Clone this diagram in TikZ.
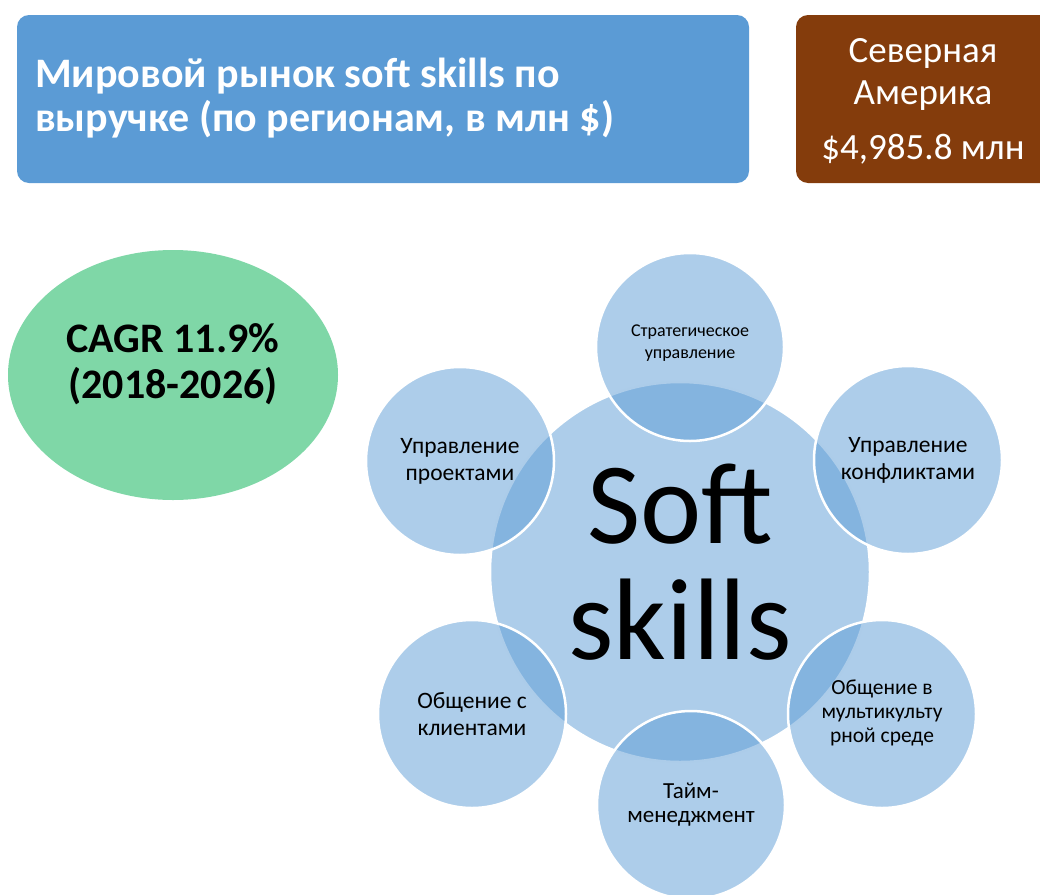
\documentclass[tikz,border=0pt]{standalone}
\usepackage{fontspec}
\setmainfont{Carlito}
\usetikzlibrary{shapes.geometric}
\definecolor{titleblue}{HTML}{5B9BD5}
\definecolor{regionbrown}{HTML}{843C0C}
\definecolor{cagrgreen}{HTML}{7FD7A7}
\definecolor{vennblue}{HTML}{5B9BD5}
\begin{document}
\begin{tikzpicture}[x=1pt,y=-1pt,
  panel/.style={rounded corners=12pt, inner sep=0pt},
  hub/.style={circle, fill=vennblue, fill opacity=0.5, text opacity=1,
    draw=white, line width=2.5pt, minimum size=380pt, inner sep=0pt},
  skill/.style={circle, fill=vennblue, fill opacity=0.5, text opacity=1,
    draw=white, draw opacity=1, line width=2.5pt, minimum size=188pt,
    inner sep=0pt},
  skilltext/.style={align=center, inner sep=0pt,
    font=\fontsize{23.5}{27}\selectfont}]
\useasboundingbox (0,0) rectangle (1040,894);
\clip (0,0) rectangle (1040,894);

% header panels
\node[panel, fill=titleblue, minimum width=732pt, minimum height=168pt]
  (titlebox) at (383,99) {};
\node[anchor=west, align=left, text=white, inner sep=0pt,
  font=\fontsize{42}{44}\selectfont\bfseries] (title) at (35,98)
  {Мировой рынок soft skills по\\выручке (по регионам, в млн \$)};

\node[panel, fill=regionbrown, minimum width=280pt, minimum height=168pt]
  (regionbox) at (936,99) {};
\node[align=center, text=white, inner sep=0pt,
  font=\fontsize{37}{42}\selectfont]
  (region) at (923,101) {Северная\\Америка\\[13pt]\$4,985.8 млн};

% growth rate
\node[ellipse, fill=cagrgreen, minimum width=330pt, minimum height=250pt]
  (cagr) at (173,375) {};
\node[align=center, inner sep=0pt, font=\fontsize{42}{46}\selectfont\bfseries]
  (cagrtext) at (173,364) {CAGR 11.9\%\\(2018-2026)};

% radial venn
\node[hub] (hub) at (680,572) {};
\node[align=center, inner sep=0pt, font=\fontsize{116}{116}\selectfont]
  (hubtext) at (680,562) {Soft\\skills};
\node[skill] (strat) at (690,347) {};
\node[skilltext, font=\fontsize{18}{22}\selectfont] at (strat.center)
  [yshift=4pt] {Стратегическое\\управление};
\node[skill] (proj) at (460,461) {};
\node[skilltext] at (proj.center) {Управление\\проектами};
\node[skill] (confl) at (908,460) {};
\node[skilltext] at (confl.center) {Управление\\конфликтами};
\node[skill] (multi) at (882,714) {};
\node[skilltext, font=\fontsize{21.5}{24}\selectfont] at (multi.center)
  [yshift=1pt] {Общение в\\мультикульту\\рной среде};
\node[skill] (client) at (472,714) {};
\node[skilltext] at (client.center) {Общение с\\клиентами};
\node[skill] (time) at (691,805) {};
\node[skilltext, font=\fontsize{23}{24}\selectfont] at (time.center)
  {Тайм-\\менеджмент};
\end{tikzpicture}
\end{document}
